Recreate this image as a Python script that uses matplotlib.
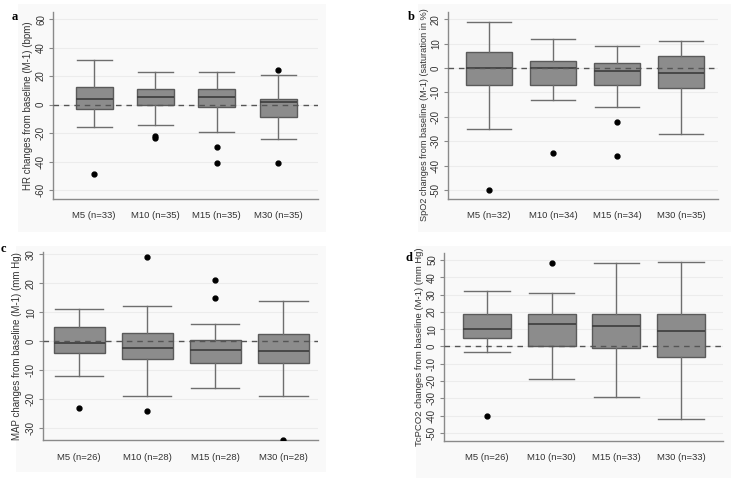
import matplotlib
matplotlib.use("Agg")
import matplotlib.pyplot as plt
from matplotlib.patches import Rectangle

plt.rcParams['font.family'] = ['Liberation Sans', 'DejaVu Sans']

groups = ["M5", "M10", "M15", "M30"]

# panel a: HR
hr_n = [33, 35, 35, 35]
hr_whislo = [-16, -14, -19, -24]
hr_q1 = [-3, 0, -2, -9]
hr_med = [4, 5, 5, 1.5]
hr_q3 = [12, 11, 11, 4]
hr_whishi = [31, 23, 23, 21]
hr_fliers = [[-49], [-22, -23.5], [-30, -41], [24, -41]]

# panel b: SpO2
spo2_n = [32, 34, 34, 35]
spo2_whislo = [-25, -13, -16, -27]
spo2_q1 = [-7, -7, -7, -8]
spo2_med = [0, 0, -1, -2]
spo2_q3 = [6.5, 3, 2, 5]
spo2_whishi = [19, 12, 9, 11]
spo2_fliers = [[-50], [-35], [-22, -36], []]

# panel c: MAP
map_n = [26, 28, 28, 28]
map_whislo = [-12, -19, -16, -19]
map_q1 = [-4, -6, -7.5, -7.5]
map_med = [-0.5, -2.5, -3, -3.5]
map_q3 = [5, 3, 0.5, 2.5]
map_whishi = [11, 12, 6, 14]
map_fliers = [[-23], [29, -24], [21, 15], [-34]]

# panel d: TcPCO2
tc_n = [26, 30, 33, 33]
tc_whislo = [-3, -19, -29, -42]
tc_q1 = [5, 0, -1, -6]
tc_med = [10, 13, 12, 9]
tc_q3 = [19, 19, 19, 19]
tc_whishi = [32, 31, 48, 49]
tc_fliers = [[-40], [48], [], []]

panels = [
    dict(letter="a", ylabel="HR changes from baseline (M-1) (bpm)",
         n=hr_n, lo=hr_whislo, q1=hr_q1, med=hr_med, q3=hr_q3, hi=hr_whishi, fl=hr_fliers,
         ticks=range(-60, 61, 20), ylim=(-66.3, 65), xlim=(0.33, 4.65), w=0.6,
         rect=(53, 12, 318, 199), bg=(18, 4, 326, 232), lab=(12, 17), yfs=7.0, ly=0.5),
    dict(letter="b", ylabel="SpO2 changes from baseline (M-1) (saturation in %)",
         n=spo2_n, lo=spo2_whislo, q1=spo2_q1, med=spo2_med, q3=spo2_q3, hi=spo2_whishi, fl=spo2_fliers,
         ticks=range(-50, 21, 10), ylim=(-53.7, 23), xlim=(0.36, 4.58), w=0.73,
         rect=(448, 12, 718, 199), bg=(418, 4, 731, 232), lab=(408, 17), yfs=6.6, ly=0.45),
    dict(letter="c", ylabel="MAP changes from baseline (M-1) (mm Hg)",
         n=map_n, lo=map_whislo, q1=map_q1, med=map_med, q3=map_q3, hi=map_whishi, fl=map_fliers,
         ticks=range(-30, 31, 10), ylim=(-34.1, 30.8), xlim=(0.47, 4.51), w=0.75,
         rect=(43, 252, 318, 440), bg=(16, 246, 326, 472), lab=(1, 249), yfs=7.0, ly=0.5),
    dict(letter="d", ylabel="TcPCO2 changes from baseline (M-1) (mm Hg)",
         n=tc_n, lo=tc_whislo, q1=tc_q1, med=tc_med, q3=tc_q3, hi=tc_whishi, fl=tc_fliers,
         ticks=range(-50, 51, 10), ylim=(-54.6, 54), xlim=(0.335, 4.65), w=0.74,
         rect=(444, 253, 723, 441), bg=(416, 246, 731, 478), lab=(405, 258), yfs=6.8, ly=0.5),
]

W, H = 731, 493
fig = plt.figure(figsize=(W / 100, H / 100), dpi=100)
fig.patch.set_facecolor("white")

for p in panels:
    bx0, by0, bx1, by1 = p["bg"]
    fig.patches.append(Rectangle((bx0 / W, 1 - by1 / H), (bx1 - bx0) / W, (by1 - by0) / H,
                                 transform=fig.transFigure, facecolor="#f9f9f9",
                                 edgecolor="none", zorder=-5))
    x0, y0, x1, y1 = p["rect"]
    ax = fig.add_axes([x0 / W, 1 - y1 / H, (x1 - x0) / W, (y1 - y0) / H])
    ax.set_facecolor("none")

    stats = []
    for i, g in enumerate(groups):
        stats.append(dict(label=f"{g} (n={p['n'][i]})", whislo=p["lo"][i], q1=p["q1"][i],
                          med=p["med"][i], q3=p["q3"][i], whishi=p["hi"][i], fliers=p["fl"][i]))
    ax.bxp(stats, positions=[1, 2, 3, 4], widths=p["w"], patch_artist=True,
           boxprops=dict(facecolor="#8c8c8c", edgecolor="#5a5a5a", linewidth=1.0),
           medianprops=dict(color="#3c3c3c", linewidth=1.2),
           whiskerprops=dict(color="#6e6e6e", linewidth=1.0),
           capprops=dict(color="#6e6e6e", linewidth=1.0),
           flierprops=dict(marker="o", markersize=3.5, markerfacecolor="black",
                           markeredgecolor="black"),
           capwidths=p["w"] * 0.95, zorder=3)
    ax.axhline(0, color="#555555", linestyle=(0, (4, 3.5)), linewidth=1.0, zorder=4)

    ax.set_xlim(*p["xlim"])
    ax.set_ylim(*p["ylim"])
    ax.set_yticks(list(p["ticks"]))
    ax.set_yticklabels([str(t) for t in p["ticks"]], rotation=90, va="center",
                       fontsize=7, color="#333333")
    ax.yaxis.grid(True, color="#ececec", linewidth=0.8)
    ax.set_axisbelow(True)
    ax.tick_params(axis="x", length=0, labelsize=6.8, labelcolor="#333333", pad=9)
    ax.tick_params(axis="y", length=3, width=0.8, color="#888888", pad=2)
    for s in ["top", "right"]:
        ax.spines[s].set_visible(False)
    for s in ["left", "bottom"]:
        ax.spines[s].set_color("#8a8a8a")
        ax.spines[s].set_linewidth(1.0)
    ax.set_ylabel(p["ylabel"], fontsize=p["yfs"], color="#333333")
    ax.yaxis.set_label_coords(-0.075 if p["letter"] in "ac" else -0.07, p["ly"])

    lx, ly = p["lab"]
    fig.text(lx / W, 1 - ly / H, p["letter"], fontsize=9, fontweight="bold",
             family=["Liberation Serif", "DejaVu Serif"], va="center", ha="left")

fig.savefig("out.png", dpi=100)
